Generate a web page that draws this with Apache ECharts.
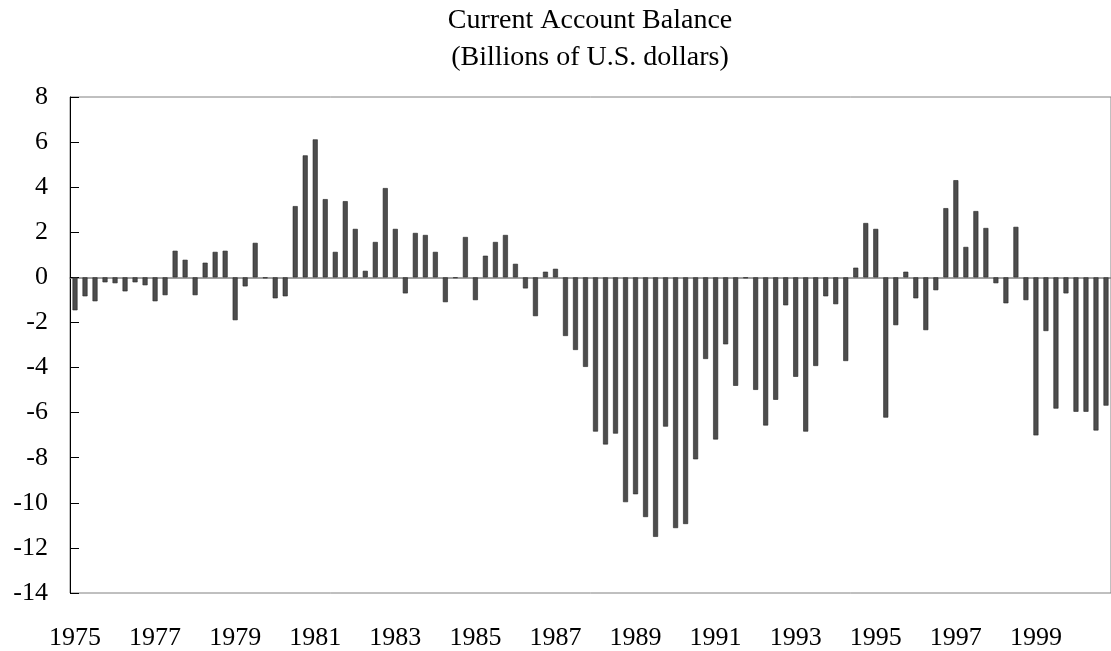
<!DOCTYPE html>
<html lang="en">
  <head>
    <meta charset="UTF-8" />
    <title>Current Account Balance</title>
    <style>
      body {
        margin: 0;
        overflow: hidden;
        background: #fff;
      }
    </style>
    <script src="https://cdn.jsdelivr.net/npm/echarts@6/dist/echarts.min.js"></script>
  </head>

  <body>
    <div id="chart" style="width: 1111px; height: 651px"></div>
    <script>
      // quarterly data, 1975Q1 - 2000Q4
      var years = [];
      for (var y = 1975; y <= 2000; y++) years.push(y);
      var quarters = ["Q1", "Q2", "Q3", "Q4"];

      var categories = [];
      years.forEach(function (yr) {
        quarters.forEach(function (q) {
          categories.push(yr + q);
        });
      });

      // billions of U.S. dollars
      var balance = [
        -1.46, -0.84, -1.06, -0.22, // 1975
        -0.26, -0.62, -0.22, -0.35, // 1976
        -1.06, -0.79, 1.18, 0.78, // 1977
        -0.79, 0.65, 1.13, 1.18, // 1978
        -1.9, -0.4, 1.53, -0.04, // 1979
        -0.93, -0.84, 3.16, 5.41, // 1980
        6.12, 3.47, 1.13, 3.38, // 1981
        2.15, 0.29, 1.57, 3.96, // 1982
        2.15, -0.71, 1.97, 1.88, // 1983
        1.13, -1.1, -0.03, 1.79, // 1984
        -1.01, 0.96, 1.57, 1.88, // 1985
        0.6, -0.49, -1.72, 0.25, // 1986
        0.38, -2.6, -3.22, -3.97, // 1987
        -6.84, -7.41, -6.93, -9.97, // 1988
        -9.62, -10.63, -11.51, -6.62, // 1989
        -11.12, -10.94, -8.07, -3.62, // 1990
        -7.19, -2.97, -4.81, -0.04, // 1991
        -4.99, -6.57, -5.43, -1.24, // 1992
        -4.41, -6.84, -3.93, -0.84, // 1993
        -1.19, -3.71, 0.43, 2.41, // 1994
        2.15, -6.22, -2.12, 0.25, // 1995
        -0.93, -2.34, -0.57, 3.07, // 1996
        4.31, 1.35, 2.94, 2.19, // 1997
        -0.26, -1.15, 2.24, -1.01, // 1998
        -7.01, -2.38, -5.82, -0.71, // 1999
        -5.96, -5.96, -6.79, -5.69, // 2000
      ];

      var yMin = -14;
      var yMax = 8;
      var yStep = 2;

      var font = "Liberation Serif";

      var option = {
        animation: false,
        backgroundColor: "#fff",
        title: {
          text: "Current Account Balance\n(Billions of U.S. dollars)",
          left: 590,
          top: 2,
          padding: 0,
          textAlign: "center",
          textStyle: {
            fontFamily: font,
            fontSize: 28,
            fontWeight: "normal",
            lineHeight: 37,
            color: "#000",
          },
        },
        grid: {
          left: 70,
          top: 97,
          width: 1046, // plot runs past the right edge of the picture
          height: 496,
          show: true,
          borderColor: "#808080",
          borderWidth: 1,
        },
        xAxis: [
          {
            // year labels along the bottom
            type: "category",
            data: categories,
            position: "bottom",
            axisLine: { show: false, onZero: false },
            axisTick: { show: false },
            axisLabel: {
              interval: 7,
              margin: 32,
              fontFamily: font,
              fontSize: 26,
              color: "#000",
              formatter: function (v) {
                return v.slice(0, 4);
              },
            },
          },
          {
            // zero line with yearly ticks
            type: "category",
            data: categories,
            position: "top",
            axisLine: {
              onZero: true,
              lineStyle: { color: "#808080", width: 1.5 },
            },
            axisTick: {
              interval: 3,
              length: 9,
              lineStyle: { color: "#000", width: 1 },
            },
            axisLabel: { show: false },
          },
        ],
        yAxis: {
          type: "value",
          min: yMin,
          max: yMax,
          interval: yStep,
          axisLine: { show: true, lineStyle: { color: "#000", width: 1 } },
          axisTick: {
            show: true,
            inside: true,
            length: 9,
            lineStyle: { color: "#000" },
          },
          splitLine: { show: false },
          axisLabel: {
            margin: 22,
            fontFamily: font,
            fontSize: 26,
            color: "#000",
          },
        },
        series: [
          {
            type: "bar",
            xAxisIndex: 0,
            data: balance,
            barWidth: 5,
            itemStyle: {
              color: "#4d4d4d",
              borderColor: "#262626",
              borderWidth: 0.6,
            },
          },
        ],
      };

      var myChart = echarts.init(document.getElementById("chart"));
      myChart.setOption(option);
    </script>
  </body>
</html>
